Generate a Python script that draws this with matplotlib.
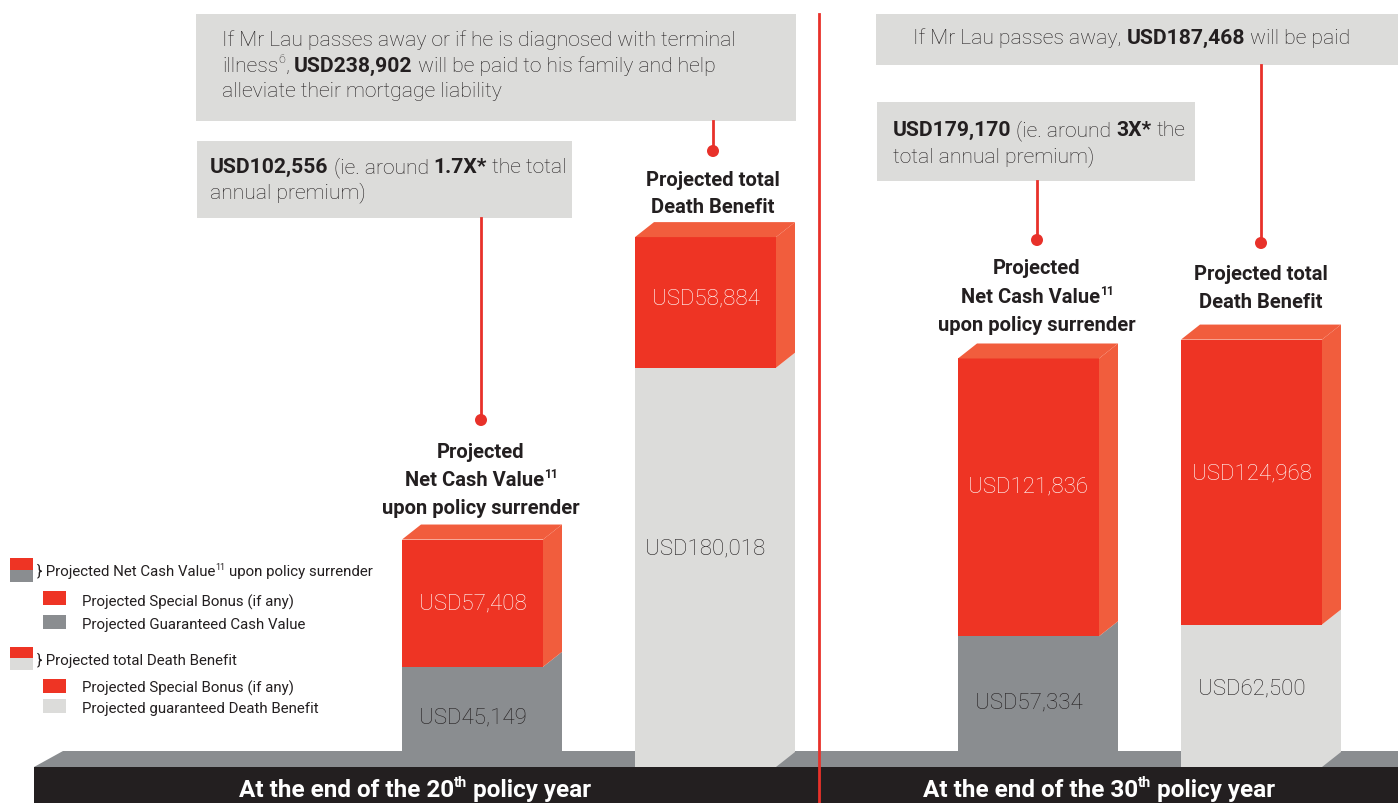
import matplotlib
matplotlib.use("Agg")
import matplotlib.pyplot as plt
from matplotlib.patches import Polygon, Rectangle, Circle

# ---- data ----
bar_names = ["Net Cash Value 20", "Death Benefit 20", "Net Cash Value 30", "Death Benefit 30"]
guaranteed = [45149, 180018, 57334, 62500]
special_bonus = [57408, 58884, 121836, 124968]
bar_totals = [102556, 238902, 179170, 187468]
policy_years = ["20", "30"]
premium_multiple = ["1.7X*", "3X*"]

# ---- layout / style ----
W, H = 1398, 804
RED = "#EE3424"
RED_SIDE = "#F15D3D"
DARK_GREY = "#8A8D90"
LIGHT_GREY = "#DCDCDA"
BAND = "#231F20"
TXT = "#231F20"
LINE_RED = "#E8312A"

BODY = ["Roboto", "DejaVu Sans"]
HEAD = ["Roboto", "DejaVu Sans"]
BODY_FS = 15.2
HEAD_FS = 14.5

bar_left = [402, 635, 958, 1181]
bar_width = 141
bar_panel = [0, 0, 1, 1]
bar_grey = [DARK_GREY, LIGHT_GREY, DARK_GREY, LIGHT_GREY]
px_per_usd = [0.002218, 0.00228]    # left / right panel scale
depth_x, depth_y = 19, 15           # pseudo 3D depth in pixels
base_px = 36                        # bar base sits 36px above the bottom edge
label_shift = [(0, 0), (-4, -19), (-11, 0), (-9, -8)]  # (bonus, guaranteed) label nudges in px

fig = plt.figure(figsize=(W / 100, H / 100), dpi=100)
fig.patch.set_facecolor("white")

# background axes in image pixel coordinates (y down)
bg = fig.add_axes([0, 0, 1, 1])
bg.set_xlim(0, W)
bg.set_ylim(H, 0)
bg.axis("off")

renderer = fig.canvas.get_renderer()


def space_width(size, weight, family):
    a = bg.text(0, 0, "n n", fontsize=size, fontweight=weight, family=family)
    b = bg.text(0, 0, "nn", fontsize=size, fontweight=weight, family=family)
    w = a.get_window_extent(renderer).width - b.get_window_extent(renderer).width
    a.remove()
    b.remove()
    return w


def draw_runs(x, y, runs, size, ha="left", color=TXT, family=BODY, normal="light"):
    items = []
    cur = 0.0
    for txt, style in runs:
        bold = "b" in style
        sup = "s" in style
        fs = size * 0.6 if sup else size
        wt = "bold" if bold else normal
        lead = len(txt) - len(txt.lstrip(" "))
        trail = len(txt) - len(txt.rstrip(" "))
        core = txt.strip(" ")
        sw = space_width(fs, wt, family) if (lead or trail) else 0
        cur += lead * sw
        yy = y - size * 0.42 * 100 / 72 if sup else y
        t = bg.text(x + cur, yy, core, fontsize=fs, fontweight=wt, family=family,
                    color=color, va="baseline", ha="left")
        items.append((t, cur))
        cur += t.get_window_extent(renderer).width + trail * sw
    if ha == "center":
        for t, off in items:
            t.set_x(x - cur / 2 + off)
    return items


# floor platform and bottom band
bg.add_patch(Polygon([(34, 768), (63, 752), (W, 752), (W, 768)], closed=True,
                     facecolor=DARK_GREY, edgecolor="none", zorder=1))
bg.add_patch(Rectangle((34, 768), W - 34, H - 768, facecolor=BAND, edgecolor="none", zorder=2))
for cx, yr in zip([415, 1099], policy_years):
    draw_runs(cx, 797, [("At the end of the " + yr, "b"), ("th", "bs"), (" policy year", "b")],
              17.5, ha="center", color="white", family=BODY)

# divider
bg.plot([819, 819], [15, H], color=LINE_RED, lw=2, zorder=3)

# annotation boxes
boxes = [(196, 15, 600, 107), (197, 142, 375, 77), (876, 15, W - 876, 51), (877, 103, 318, 79)]
for bx, by, bw, bh in boxes:
    bg.add_patch(Rectangle((bx, by), bw, bh, facecolor=LIGHT_GREY, edgecolor="none", zorder=2))

draw_runs(222, 46, [("If Mr Lau passes away or if he is diagnosed with terminal", "")], BODY_FS)
draw_runs(222, 72, [("illness", ""), ("6", "s"), (", ", ""), ("USD%s" % f"{bar_totals[1]:,}", "b"),
                    (" will be paid to his family and help", "")], BODY_FS)
draw_runs(222, 97, [("alleviate their mortgage liability", "")], BODY_FS)

draw_runs(210, 173, [("USD%s" % f"{bar_totals[0]:,}", "b"), (" (ie. around ", ""),
                     (premium_multiple[0], "b"), (" the total", "")], BODY_FS)
draw_runs(210, 198, [("annual premium)", "")], BODY_FS)

draw_runs(913, 44, [("If Mr Lau passes away, ", ""), ("USD%s" % f"{bar_totals[3]:,}", "b"),
                    (" will be paid", "")], BODY_FS)

draw_runs(893, 136, [("USD%s" % f"{bar_totals[2]:,}", "b"), (" (ie. around ", ""),
                     (premium_multiple[1], "b"), (" the", "")], BODY_FS)
draw_runs(893, 162, [("total annual premium)", "")], BODY_FS)

# connector lines with dots
connectors = [(713, 122, 152), (481, 219, 421), (1037, 182, 241), (1261, 66, 244)]
for cx, y0, y1 in connectors:
    bg.plot([cx, cx], [y0, y1], color=LINE_RED, lw=2, zorder=3)
    bg.add_patch(Circle((cx, y1), 6, facecolor=LINE_RED, edgecolor="none", zorder=4))

# bar headings
for cx, ys in [(713, (186, 213)), (1261, (280, 308))]:
    draw_runs(cx, ys[0], [("Projected total", "b")], HEAD_FS, ha="center", family=HEAD)
    draw_runs(cx, ys[1], [("Death Benefit", "b")], HEAD_FS, ha="center", family=HEAD)
for cx, ys in [(481, (458, 486, 514)), (1037, (274, 303, 331))]:
    draw_runs(cx, ys[0], [("Projected", "b")], HEAD_FS, ha="center", family=HEAD)
    draw_runs(cx, ys[1], [("Net Cash Value", "b"), ("11", "bs")], HEAD_FS, ha="center", family=HEAD)
    draw_runs(cx, ys[2], [("upon policy surrender", "b")], HEAD_FS, ha="center", family=HEAD)


# legend
def swatch(x, y, w, h, color):
    bg.add_patch(Rectangle((x, y), w, h, facecolor=color, edgecolor="none", zorder=2))


LEG_FS = 10.8
swatch(10, 559, 23, 12, RED)
swatch(10, 571, 23, 12, DARK_GREY)
draw_runs(37, 576, [("} Projected Net Cash Value", ""), ("11", "s"), (" upon policy surrender", "")],
          LEG_FS, normal="normal")
swatch(43, 592, 23, 14, RED)
draw_runs(82, 607, [("Projected Special Bonus (if any)", "")], LEG_FS, normal="normal")
swatch(43, 616, 23, 14, DARK_GREY)
draw_runs(82, 629, [("Projected Guaranteed Cash Value", "")], LEG_FS, normal="normal")

swatch(10, 648, 23, 11, RED)
swatch(10, 659, 23, 12, LIGHT_GREY)
draw_runs(37, 665, [("} Projected total Death Benefit", "")], LEG_FS, normal="normal")
swatch(43, 680, 23, 14, RED)
draw_runs(82, 693, [("Projected Special Bonus (if any)", "")], LEG_FS, normal="normal")
swatch(43, 700, 23, 14, LIGHT_GREY)
draw_runs(82, 713, [("Projected guaranteed Death Benefit", "")], LEG_FS, normal="normal")

# bar axes: x in pixels, y in USD with the base at the floor line
panels = []
for s in px_per_usd:
    ax = fig.add_axes([0, 0, 1, 1])
    ax.set_xlim(0, W)
    ax.set_ylim(-base_px / s, (H - base_px) / s)
    ax.patch.set_alpha(0)
    ax.axis("off")
    panels.append(ax)

for i, name in enumerate(bar_names):
    ax = panels[bar_panel[i]]
    s = px_per_usd[bar_panel[i]]
    x0 = bar_left[i]
    x1 = x0 + bar_width
    g = guaranteed[i]
    top = g + special_bonus[i]
    dy = depth_y / s
    ax.bar(x0, g, width=bar_width, bottom=0, align="edge", color=bar_grey[i], lw=0, zorder=2)
    ax.bar(x0, special_bonus[i], width=bar_width, bottom=g, align="edge", color=RED, lw=0, zorder=2)
    ax.add_patch(Polygon([(x1, 0), (x1 + depth_x, dy), (x1 + depth_x, g + dy), (x1, g)],
                         closed=True, facecolor=bar_grey[i], edgecolor="none", zorder=2))
    ax.add_patch(Polygon([(x1, g), (x1 + depth_x, g + dy), (x1 + depth_x, top + dy), (x1, top)],
                         closed=True, facecolor=RED_SIDE, edgecolor="none", zorder=2))
    ax.add_patch(Polygon([(x0, top), (x0 + depth_x, top + dy), (x1 + depth_x, top + dy), (x1, top)],
                         closed=True, facecolor=RED_SIDE, edgecolor="none", zorder=2))
    sb, sg = label_shift[i]
    cx = x0 + bar_width / 2
    ax.text(cx, g + special_bonus[i] / 2 - sb / s, f"USD{special_bonus[i]:,}", color="white",
            fontsize=16, family=BODY, fontweight="light", ha="center", va="center", zorder=3)
    ax.text(cx, g / 2 - sg / s, f"USD{g:,}", color=TXT,
            fontsize=16, family=BODY, fontweight="light", ha="center", va="center", zorder=3)

fig.savefig("out.png", dpi=100, facecolor="white")
